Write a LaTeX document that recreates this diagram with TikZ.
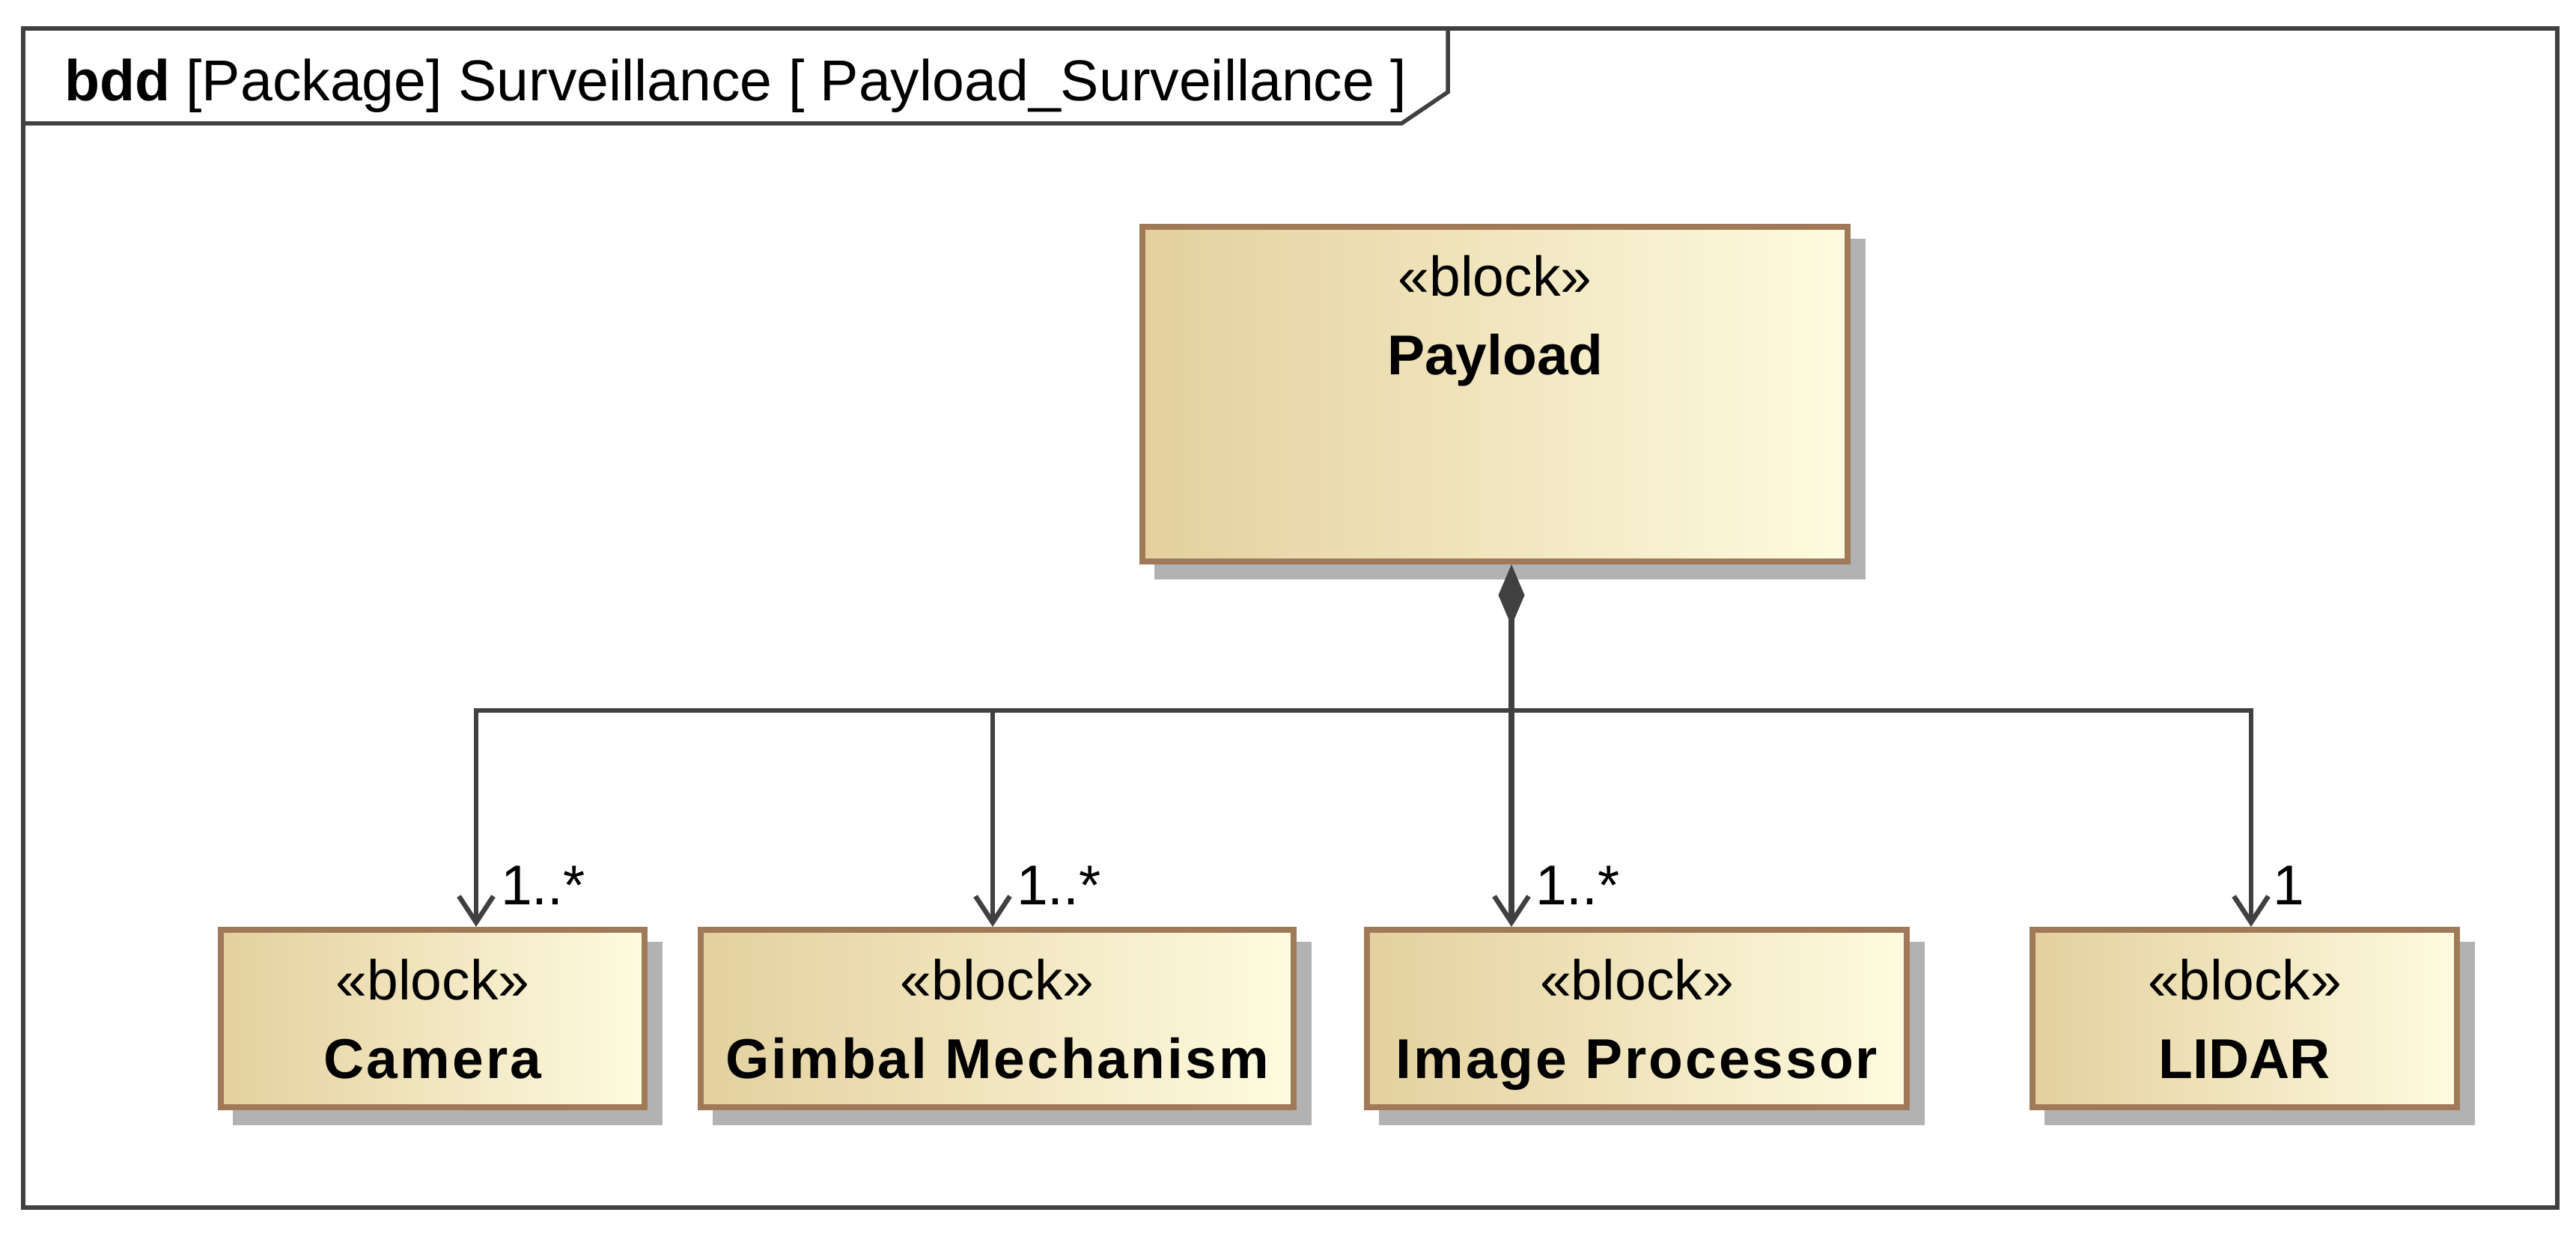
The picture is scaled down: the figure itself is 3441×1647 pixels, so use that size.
\documentclass[tikz,border=0pt]{standalone}
\usepackage{fontspec}
\setmainfont{Liberation Sans}
\usetikzlibrary{arrows.meta,calc,backgrounds}
\definecolor{framec}{RGB}{64,64,64}
\definecolor{blockborder}{RGB}{160,122,88}
\definecolor{fillL}{RGB}{228,208,158}
\definecolor{fillR}{RGB}{254,251,224}
\definecolor{shadowc}{RGB}{178,178,178}
\begin{document}
\begin{tikzpicture}[x=0.2pt,y=-0.2pt,
  blockbox/.style 2 args={draw=blockborder, line width=1.6pt, left color=fillL, right color=fillR,
    rectangle, anchor=north west, inner sep=0pt, minimum width=#1*0.2pt, minimum height=#2*0.2pt},
  stereo/.style={anchor=base, font=\fontsize{15}{18}\selectfont, inner sep=0pt},
  bname/.style={anchor=base, font=\fontsize{15}{18}\selectfont\bfseries, inner sep=0pt},
  sname/.style={bname, font=\fontsize{15}{18}\selectfont\bfseries\addfontfeature{LetterSpace=4}},
  conn/.style={draw=framec, line width=1.3pt},
  arr/.style={conn, -{Straight Barb[length=7pt,width=9.2pt,line width=1.3pt]}},
  mult/.style={anchor=base west, font=\fontsize{15}{18}\selectfont, inner sep=0pt},
  shadowbox/.style={fill=shadowc},
  framestyle/.style={draw=framec, line width=1.1pt},
]
\useasboundingbox (0,0) rectangle (3441,1647);

% frame
\draw[framestyle] (31,38) rectangle (3416,1613);
\draw[framestyle] (31,165) -- (1872,165) -- (1934,123) -- (1934,38);
\node[anchor=base west, inner sep=0pt, font=\fontsize{15.4}{18}\selectfont] (title) at (85,135)
  {\textbf{bdd} [Package] Surveillance [ Payload\_Surveillance ]};

% blocks
\node[blockbox={942}{447}] (payload) at (1522,299) {};
\node[blockbox={566}{237}] (camera) at (291,1238) {};
\node[blockbox={792}{237}] (gimbal) at (932,1238) {};
\node[blockbox={721}{237}] (imgproc) at (1822,1238) {};
\node[blockbox={567}{237}] (lidar) at (2711,1238) {};

\begin{scope}[on background layer]
  \foreach \n in {payload,camera,gimbal,imgproc,lidar}{
    \fill[shadowbox] ($(\n.north west)+(20,20)$) rectangle ($(\n.south east)+(20,20)$);
  }
\end{scope}

% texts
\node[stereo] (payload-st) at ($(payload.north)+(0,97)$) {«block»};
\node[bname] (payload-nm) at ($(payload.north)+(0,202)$) {Payload};
\node[stereo] (camera-st) at ($(camera.north)+(0,98)$) {«block»};
\node[sname] (camera-nm) at ($(camera.north)+(0,203)$) {Camera};
\node[stereo] (gimbal-st) at ($(gimbal.north)+(0,98)$) {«block»};
\node[sname] (gimbal-nm) at ($(gimbal.north)+(0,203)$) {Gimbal Mechanism};
\node[stereo] (imgproc-st) at ($(imgproc.north)+(0,98)$) {«block»};
\node[sname] (imgproc-nm) at ($(imgproc.north)+(0,203)$) {Image Processor};
\node[stereo] (lidar-st) at ($(lidar.north)+(0,98)$) {«block»};
\node[bname] (lidar-nm) at ($(lidar.north)+(0,203)$) {LIDAR};

% connection points
\coordinate (pbot) at ($(payload.south west)+(497,0)$);
\coordinate (bus) at ($(pbot)+(0,195)$);
\coordinate (camtop) at ($(camera.north west)+(345,0)$);
\coordinate (gimtop) at ($(gimbal.north west)+(394,0)$);
\coordinate (iptop) at ($(imgproc.north west)+(197,0)$);
\coordinate (lidtop) at ($(lidar.north west)+(296,0)$);

% connectors
\draw[conn, line width=1.6pt, {Diamond[length=16.4pt,width=7pt]}-{Straight Barb[length=7pt,width=9.2pt,line width=1.3pt]}] (pbot) -- (iptop);
\draw[arr] (bus) -| (camtop);
\draw[arr] (bus) -| (gimtop);
\draw[arr] (bus) -| (lidtop);

% multiplicities
\node[mult] (m-cam) at ($(camtop)+(32,-29)$) {1..*};
\node[mult] (m-gim) at ($(gimtop)+(31,-29)$) {1..*};
\node[mult] (m-ip) at ($(iptop)+(31,-29)$) {1..*};
\node[mult] (m-lid) at ($(lidtop)+(28,-29)$) {1};
\end{tikzpicture}
\end{document}
